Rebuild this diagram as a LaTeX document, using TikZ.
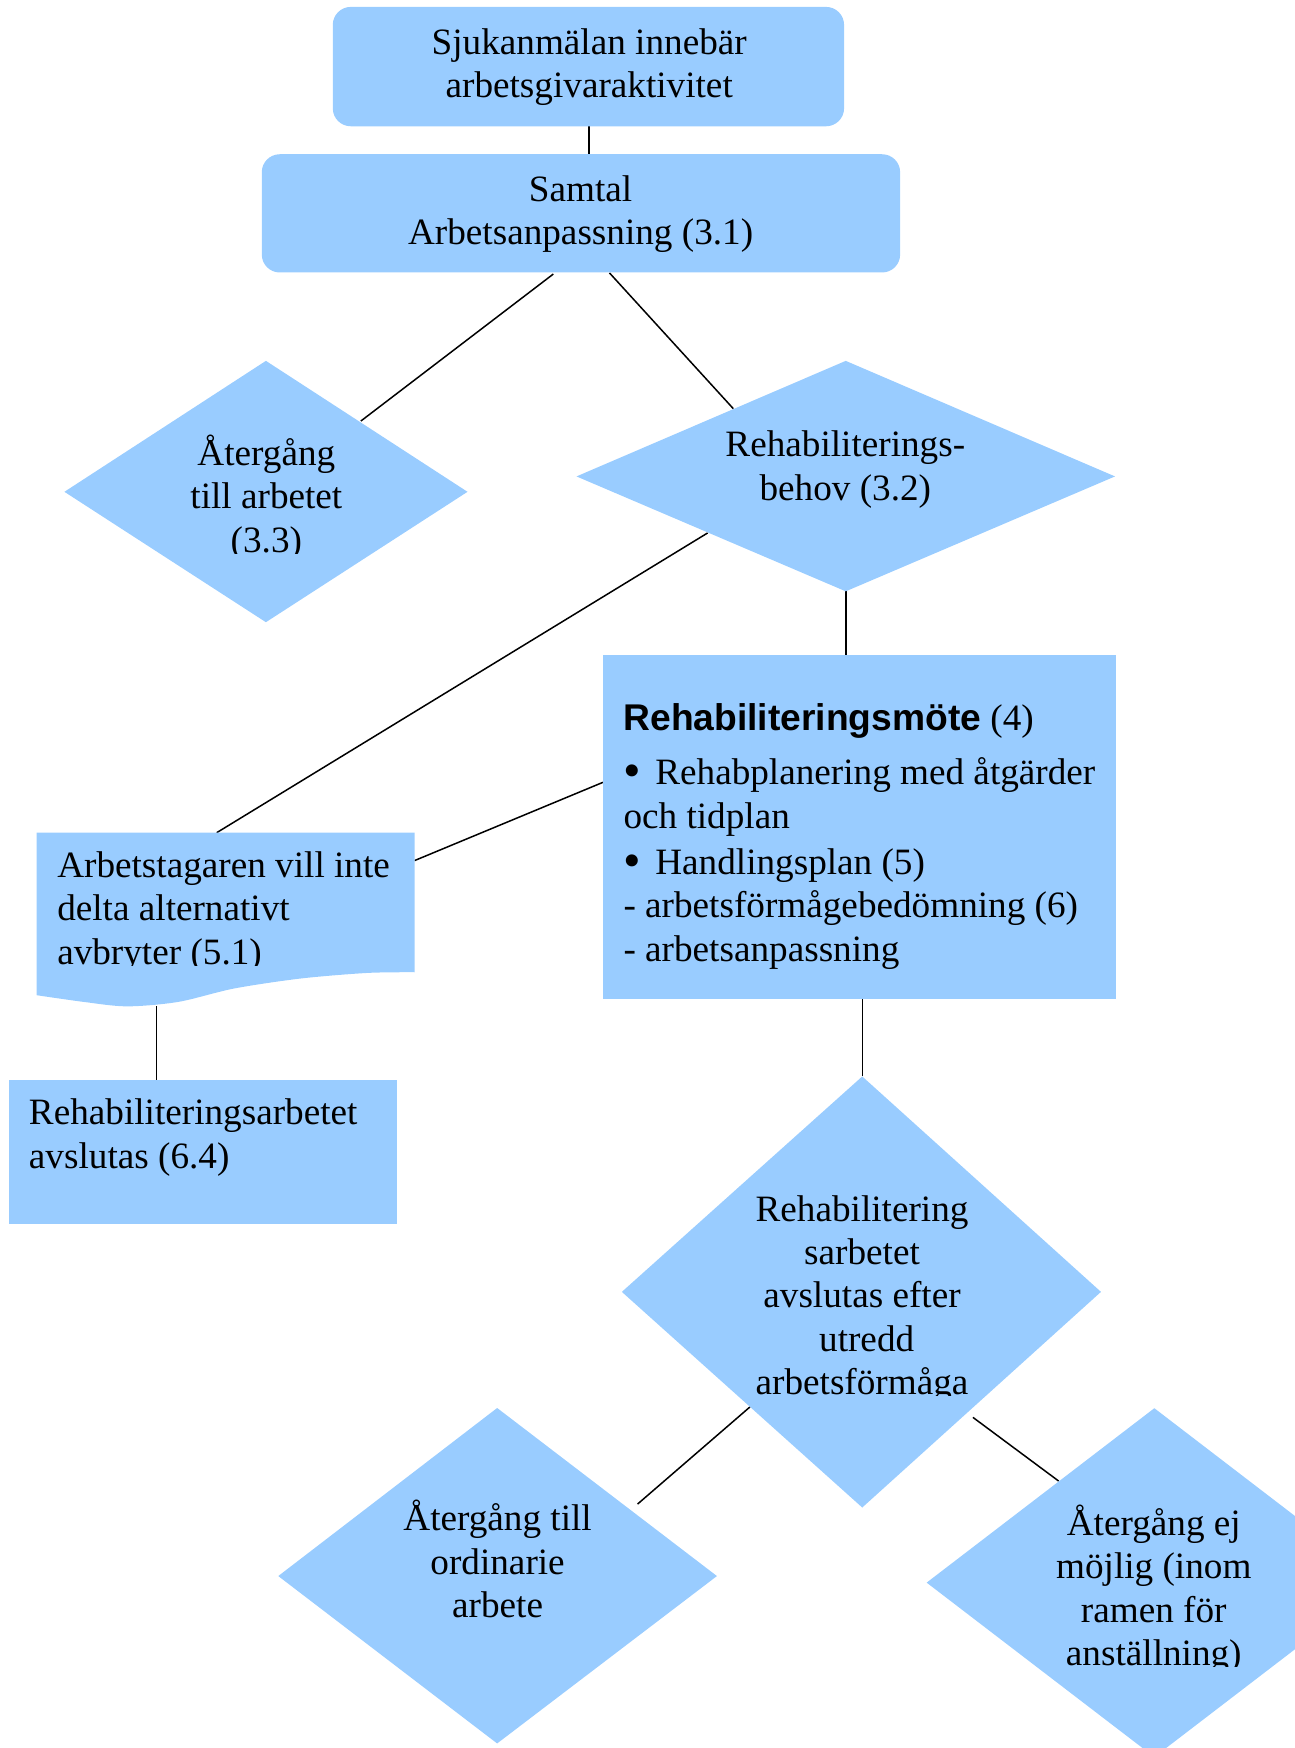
\documentclass[tikz,border=0pt]{standalone}
\usepackage{graphicx}
\usepackage{fontspec}
\setmainfont{Liberation Serif}
\setsansfont{Liberation Sans}
\definecolor{boxblue}{HTML}{99CCFF}
\newcommand\diafs{\fontsize{18.6pt}{21.7pt}\selectfont}
\newcommand\bigbul{\makebox[15.9pt][l]{\raisebox{-1.5pt}{\scalebox{1.35}{\textbullet}}}}
\begin{document}
\begin{tikzpicture}[x=0.55723pt, y=-0.55723pt,
  shapefill/.style={fill=boxblue, draw=none},
  conn/.style={draw=black, line width=0.75pt},
  txt/.style={inner sep=0pt, outer sep=0pt, font=\diafs, text=black},
  ctxt/.style={txt, align=center, anchor=base},
  ltxt/.style={txt, align=left, anchor=base west},
]
\path[use as bounding box, clip] (0,0) rectangle (1162,1568.5);

% ---------- connector end points ----------
\coordinate (topBot)   at (528.4,113.3);
\coordinate (samTop)   at (528.4,138.4);
\coordinate (samL)     at (496.5,245.9);
\coordinate (atgTop)   at (323.8,377.8);
\coordinate (samR)     at (546.9,244.9);
\coordinate (behTop)   at (658,366.7);
\coordinate (behBot)   at (758.9,530.6);
\coordinate (motTop)   at (758.9,587.8);
\coordinate (behLow)   at (635,478.2);
\coordinate (arbTop)   at (194.4,747.2);
\coordinate (motL)     at (541,702);
\coordinate (arbR)     at (372,772.2);
\coordinate (arbBot)   at (140.6,903);
\coordinate (avsTop)   at (140.6,969);
\coordinate (motBot)   at (773.7,896.2);
\coordinate (utrTop)   at (773.7,965.9);
\coordinate (utrL)     at (673,1262.4);
\coordinate (ordTop)   at (572.1,1349.6);
\coordinate (utrR)     at (873,1271.8);
\coordinate (ejTop)    at (950,1329);

% ---------- connectors ----------
\draw[conn] (topBot) -- (samTop);
\draw[conn] (samL) -- (atgTop);
\draw[conn] (samR) -- (behTop);
\draw[conn] (behBot) -- (motTop);
\draw[conn] (behLow) -- (arbTop);
\draw[conn] (motL) -- (arbR);
\draw[conn] (arbBot) -- (avsTop);
\draw[conn] (motBot) -- (utrTop);
\draw[conn] (utrL) -- (ordTop);
\draw[conn] (utrR) -- (ejTop);

% ---------- shapes ----------
\fill[shapefill, rounded corners=9pt] (298.6,6.2) rectangle (757.4,113.3);
\fill[shapefill, rounded corners=9pt] (234.9,138.4) rectangle (807.7,244.5);
\fill[shapefill] (57.8,441.3) -- (238.6,323.8) -- (419.5,441.3) -- (238.6,558.3) -- cycle;
\fill[shapefill] (517.3,427.5) -- (758.9,323.8) -- (1000.5,427.5) -- (758.9,530.6) -- cycle;
\fill[shapefill] (541,587.8) rectangle (1001.2,896.2);
\fill[shapefill] (32.9,747.2) -- (372,747.2) -- (372,872.4)
  -- plot[smooth] coordinates {(372,872.4) (330,873) (270,878) (210,887) (160,899) (114,903) (75,899) (32.9,893)}
  -- cycle;
\fill[shapefill] (8.2,969) rectangle (356.3,1098);
\fill[shapefill] (558,1159.2) -- (773.7,965.9) -- (987.9,1159.2) -- (773.7,1352.7) -- cycle;
\fill[shapefill] (249.7,1414.2) -- (446.1,1263.4) -- (643.3,1414.2) -- (446.1,1564.4) -- cycle;
\fill[shapefill] (831.5,1420.1) -- (1035.8,1263.6) -- (1240,1420.1) -- (1035.8,1576.6) -- cycle;

% ---------- texts (anchored at the baseline of the last line) ----------
\node[ctxt] (sjuk) at (528.7,87.6) {Sjukanmälan innebär\\arbetsgivaraktivitet};
\node[ctxt] (samtal) at (521,219.8) {Samtal\\Arbetsanpassning (3.1)};
\begin{scope}
  \clip (40,300) rectangle (440,496.5);
  \node[ctxt] (atergang) at (239,495.5) {Återgång\\till arbetet\\(3.3)};
\end{scope}
\node[ctxt] (behov) at (758.5,449) {Rehabiliterings-\\behov (3.2)};
\node[ltxt] (mote) at (559.5,862.5) {{\sffamily\bfseries Rehabiliteringsmöte} (4)\\[5.4pt]
  \bigbul Rehabplanering med åtgärder\\
  och tidplan\\[1.5pt]
  \bigbul Handlingsplan (5)\\
  - arbetsförmågebedömning (6)\\
  - arbetsanpassning};
\begin{scope}
  \clip (30,740) rectangle (380,866.5);
  \node[ltxt] (arbtag) at (51.4,865) {Arbetstagaren vill inte\\delta alternativt\\avbryter (5.1)};
\end{scope}
\node[ltxt] (avslutas) at (26,1048.3) {Rehabiliteringsarbetet\\avslutas (6.4)};
\begin{scope}
  \clip (550,1060) rectangle (1000,1252.5);
  \node[ctxt] (utredd) at (773.5,1251.5) {Rehabilitering\\sarbetet\\avslutas efter\\\rule{0.25em}{0pt}utredd\\arbetsförmåga};
\end{scope}
\node[ctxt] (ordinarie) at (446.5,1451.5) {Återgång till\\ordinarie\\arbete};
\begin{scope}
  \clip (820,1340) rectangle (1162,1495.5);
  \node[ctxt] (ejmojlig) at (1035.3,1494.5) {Återgång ej\\möjlig (inom\\ramen för\\anställning)};
\end{scope}
\end{tikzpicture}
\end{document}
